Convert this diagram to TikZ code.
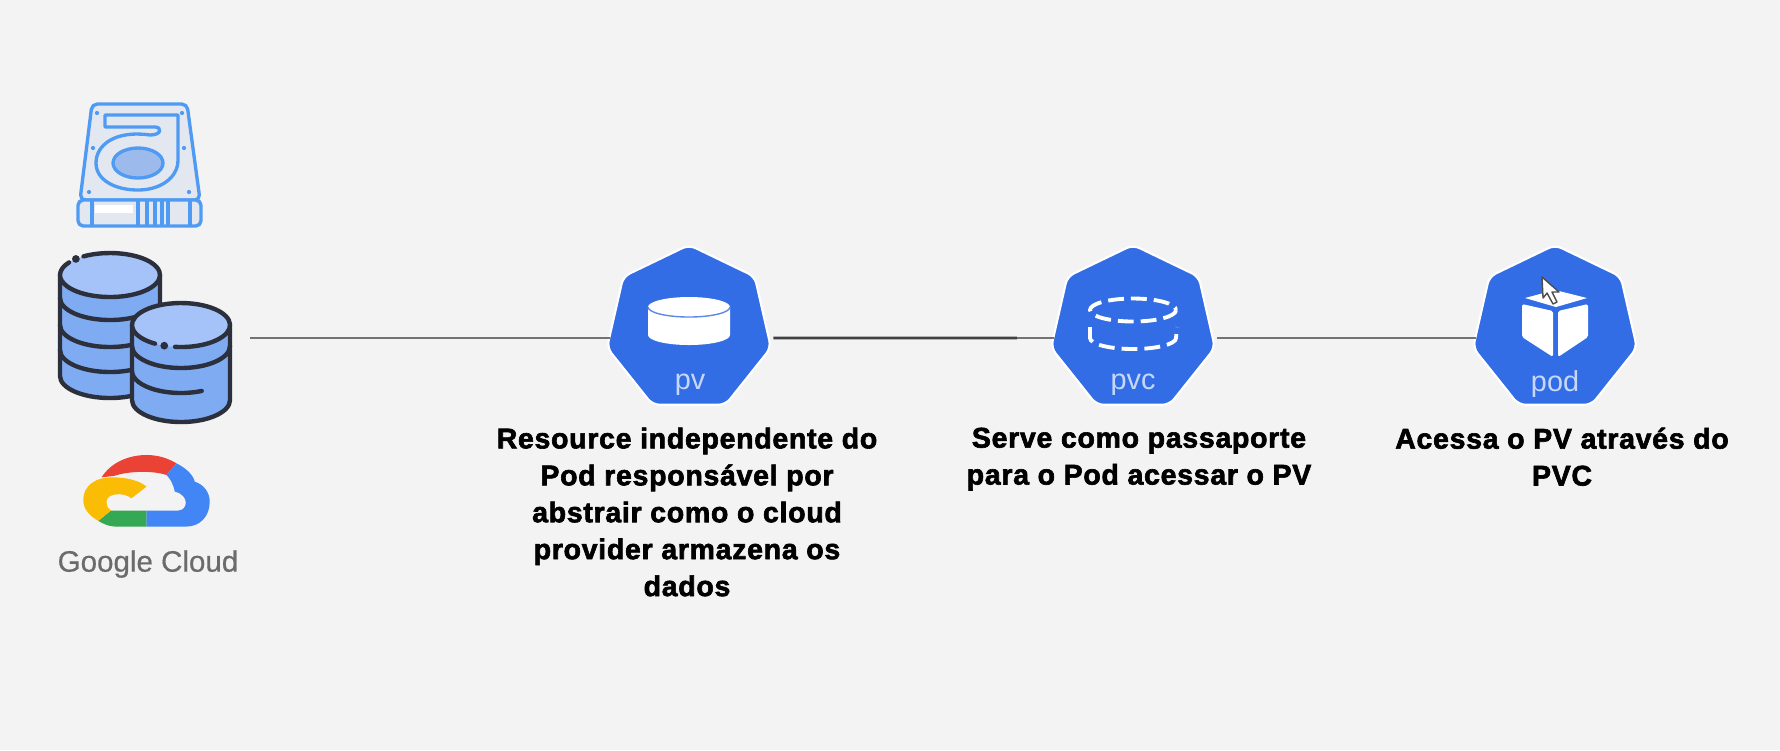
\documentclass[tikz,border=0pt]{standalone}
\usepackage{fontspec}
\usepackage{tikz}
\usetikzlibrary{shapes.geometric, positioning}
\setmainfont{Liberation Sans}
\newfontfamily\descfont[LetterSpace=2.5, BoldFeatures={FakeBold=2.2}]{Liberation Sans}
\newfontfamily\gcfont[FakeBold=0.5]{Liberation Sans}
\definecolor{pagebg}{HTML}{F3F3F3}
\definecolor{kubeblue}{HTML}{326DE6}
\definecolor{kubetext}{HTML}{C6D8F8}
\definecolor{hddline}{HTML}{4F9BF3}
\definecolor{hddfill}{HTML}{E3E8F0}
\definecolor{hdddisc}{HTML}{9CBBEC}
\definecolor{stackline}{HTML}{2B303C}
\definecolor{stackbody}{HTML}{7FABF2}
\definecolor{stacktop}{HTML}{A5C3F8}
\definecolor{gcred}{HTML}{EA4335}
\definecolor{gcblue}{HTML}{4285F4}
\definecolor{gcyellow}{HTML}{FBBC05}
\definecolor{gcgreen}{HTML}{34A853}

\begin{document}
\begin{tikzpicture}[
  x=0.01cm, y=-0.01cm,
  hept/.style={regular polygon, regular polygon sides=7, minimum size=1.68cm, inner sep=0pt,
    fill=kubeblue, draw=white, line width=0.6pt, rounded corners=2pt},
  kubelabel/.style={text=kubetext, inner sep=0pt, font=\fontsize{8.2}{10}\selectfont},
  desc/.style={align=center, inner sep=0pt, font=\descfont\bfseries\fontsize{8.1}{10.5}\selectfont},
  link/.style={draw=black!55, line width=0.55pt},
  hdd/.style={draw=hddline, line width=0.95pt, line join=round, line cap=round},
  db/.style={draw=stackline, line width=1.25pt, line cap=round},
  dashline/.style={draw=white, line width=1.1pt, dash pattern=on 4.5pt off 2pt},
]
\useasboundingbox[fill=pagebg] (0,0) rectangle (1780,750);

% hard disk
\draw[hdd, fill=hddfill, rounded corners=1.5pt] (92,104) -- (187,104) -- (200,200) -- (80,200) -- cycle;
\draw[hdd] (150,135) .. controls (115,130) and (96,145) .. (96,163) .. controls (96,180) and (115,190) .. (138,190)
  .. controls (160,190) and (178,178) .. (178,160) -- (178,115) -- (105,115) -- (105,127) -- (155,127)
  .. controls (162,127) and (162,135) .. (150,135);
\draw[hdd, fill=hdddisc] (138,163) ellipse [x radius=25, y radius=15];
\draw[hdd, fill=hddfill, rounded corners=1.5pt] (78,200) rectangle (201,226);
\fill[white] (95,205) rectangle (133,213);
\foreach \x in {92,138,147,155,162,168,190}
  \draw[hdd] (\x,201) -- (\x,225);
\foreach \x/\y in {97/113,182/113,93/148,184/148,89/192,189/192}
  \fill[hddline] (\x,\y) circle (0.6pt);

% database stack
\draw[db, fill=stackbody] (60,275) -- (60,376) arc[start angle=180, end angle=0, x radius=50, y radius=22] -- (160,275);
\foreach \y in {298,325,350}
  \draw[db] (60,\y) arc[start angle=180, end angle=60, x radius=50, y radius=22];
\fill[stacktop] (110,275) ellipse [x radius=50, y radius=22];
\draw[db] (110,275) ++(-122:50 and 22) arc[start angle=-122, end angle=215, x radius=50, y radius=22];
\fill[stackline] (110,275) ++(-133:50 and 22) circle (1.1pt);
\draw[db, fill=stackbody] (132,325) -- (132,400) arc[start angle=180, end angle=0, x radius=49, y radius=22] -- (230,325);
\draw[db] (132,346) arc[start angle=180, end angle=0, x radius=49, y radius=22];
\draw[db] (132,371) arc[start angle=180, end angle=65, x radius=49, y radius=22];
\fill[stacktop] (181,325) ellipse [x radius=49, y radius=22];
\draw[db] (181,325) ++(122:49 and 22) arc[start angle=122, end angle=457, x radius=49, y radius=22];
\fill[stackline] (181,325) ++(110:49 and 22) circle (1.1pt);

% google cloud
\begin{scope}[shift={(40,440)}, x=0.00333cm, y=-0.00333cm]
\fill[gcred] (185,112) .. controls (215,65) and (270,45) .. (320,45) .. controls (355,45) and (385,55) .. (410,70)
  -- (380,105) .. controls (340,92) and (270,92) .. (222,108) -- cycle;
\fill[gcblue] (410,70) .. controls (440,85) and (460,105) .. (465,125) .. controls (495,135) and (510,160) .. (510,185)
  .. controls (510,230) and (480,260) .. (440,260) -- (320,260) -- (320,212) -- (415,212)
  .. controls (445,212) and (450,165) .. (405,155) .. controls (400,130) and (390,115) .. (380,105) -- cycle;
\fill[gcgreen] (320,260) -- (225,260) .. controls (208,260) and (190,252) .. (175,243) -- (213,212) -- (320,212) -- cycle;
\fill[gcyellow] (175,243) .. controls (145,225) and (130,205) .. (130,180) .. controls (130,135) and (170,112) .. (215,112)
  .. controls (260,112) and (300,122) .. (320,140) -- (275,175) .. controls (250,155) and (200,160) .. (200,185)
  .. controls (200,200) and (205,207) .. (213,212) -- cycle;
\end{scope}
\node[text=black!58, inner sep=0pt, font=\gcfont\fontsize{8.4}{9}\selectfont] (gcname) at (148,564) {Google Cloud};

% kubernetes resources
\node[hept] (pv) at (689,329) {};
\node[hept] (pvc) at (1133,329) {};
\node[hept] (pod) at (1555,329) {};

\coordinate (stackend) at (250,338);
\coordinate (linkjoin) at (1017,338);
\draw[link] (stackend) -- ([yshift=-0.09cm]pv.west);
\draw[link, line width=0.8pt, draw=black!75] ([yshift=-0.09cm, xshift=1.6pt]pv.east) -- (linkjoin);
\draw[link] (linkjoin) -- ([yshift=-0.09cm]pvc.west);
\draw[link] ([yshift=-0.09cm, xshift=1.6pt]pvc.east) -- ([yshift=-0.09cm]pod.west);

% pv icon
\fill[white] (648,307) -- (648,335) arc[start angle=180, end angle=0, x radius=41, y radius=10] -- (730,307) -- cycle;
\fill[white] (689,307) ellipse [x radius=41, y radius=10];
\draw[kubeblue!80, line width=0.4pt] (648,307) arc[start angle=180, end angle=0, x radius=41, y radius=10];
\node[kubelabel] (pvlabel) at (690,385) {pv};

% pvc icon
\draw[dashline] (1133,310) ellipse [x radius=43, y radius=11.5];
\draw[dashline] (1090,327) -- (1090,338) arc[start angle=180, end angle=0, x radius=43, y radius=11] -- (1177,327);
\node[kubelabel] (pvclabel) at (1133,385) {pvc};

% pod icon
\fill[white, rounded corners=0.5pt] (1522,304) -- (1553,311) -- (1553,357) -- (1522,337) -- cycle;
\fill[white, rounded corners=0.5pt] (1558,311) -- (1588,304) -- (1588,337) -- (1558,357) -- cycle;
\fill[white] (1525,298) -- (1555,290) -- (1587,298) -- (1556,307) -- cycle;
\node[kubelabel] (podlabel) at (1555,384) {pod};

% mouse pointer
\draw[fill=white, draw=black!70, line width=0.4pt, line join=round]
  (1542,277) -- (1543,298) -- (1547,293) -- (1553,304) -- (1557,302) -- (1552,292) -- (1559,292) -- cycle;

% descriptions
\node[desc, anchor=north] (pvtext) at (687,427) {Resource independente do\\Pod responsável por\\abstrair como o cloud\\provider armazena os\\dados};
\node[desc, anchor=north] (pvctext) at (1139,427) {Serve como passaporte\\para o Pod acessar o PV};
\node[desc, anchor=north] (podtext) at (1562,427) {Acessa o PV através do\\PVC};
\end{tikzpicture}
\end{document}
